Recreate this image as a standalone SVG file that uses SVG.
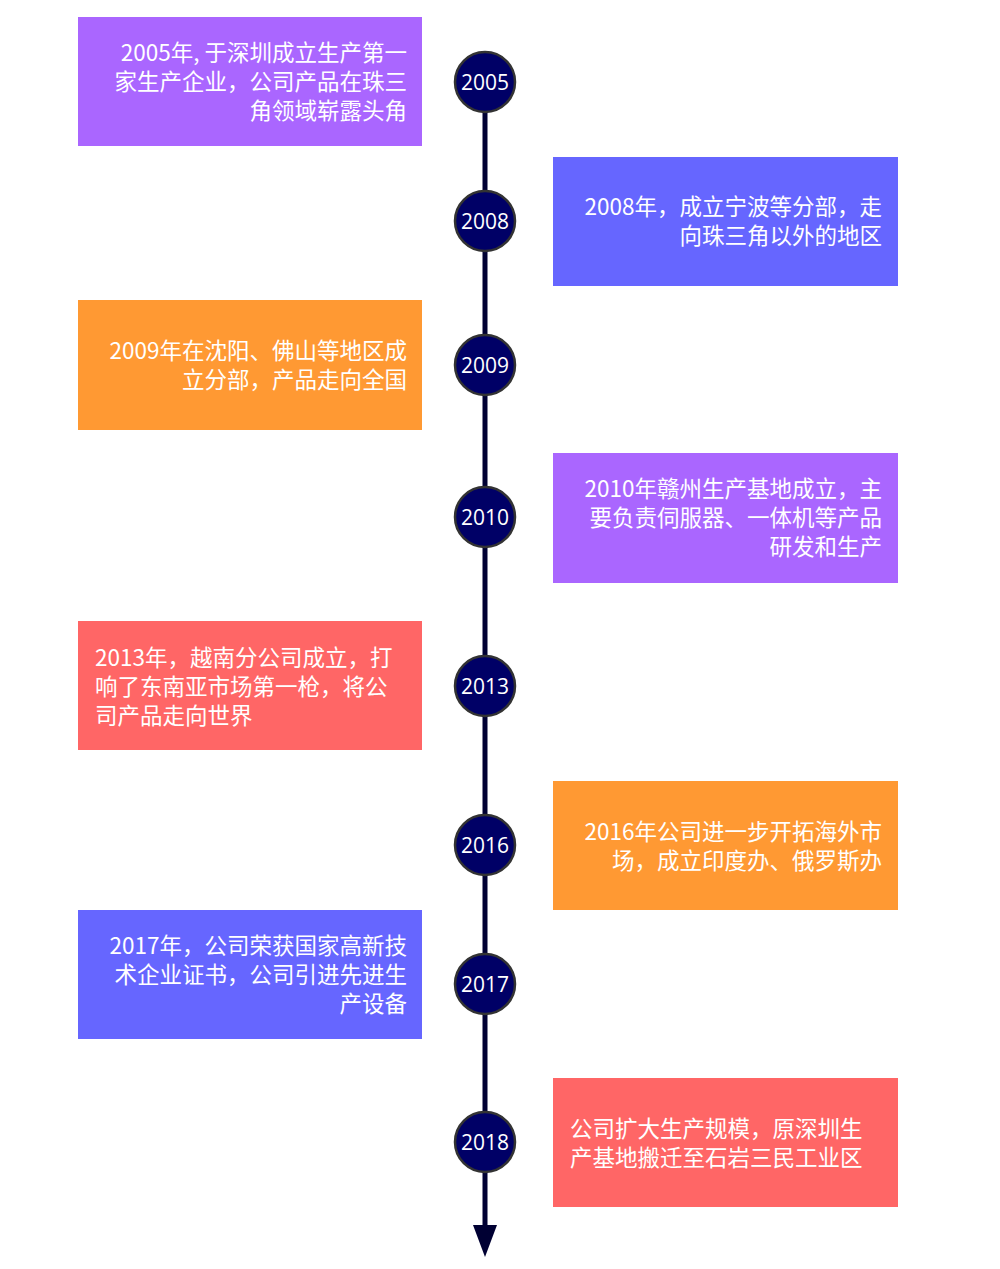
<svg xmlns="http://www.w3.org/2000/svg" width="1000" height="1269" viewBox="0 0 1000 1269">
<style>
.box{stroke:none}
.purple{fill:#AA66FF}
.blue{fill:#6666FF}
.orange{fill:#FF9933}
.red{fill:#FF6666}
.t{font-family:"Noto Sans CJK SC","Noto Sans",sans-serif;font-size:22.5px;fill:#ffffff}
.r{text-anchor:end}
.yr{fill:#000066;stroke:#333333;stroke-width:2.5}
.yt{font-family:"Open Sans","DejaVu Sans",sans-serif;font-size:21px;fill:#ffffff;text-anchor:middle}
</style>
<rect width="1000" height="1269" fill="#ffffff"/>
<g id="connectors">
<line x1="485" y1="82" x2="485" y2="1228" stroke="#000033" stroke-width="5"/>
<polygon points="473,1225 497,1225 485,1257" fill="#000033"/>
</g>
<g id="node-2005">
<rect class="box purple" x="78" y="17" width="344" height="129"/>
<text class="t r" x="407" y="61">2005年, 于深圳成立生产第一</text>
<text class="t r" x="407" y="90">家生产企业，公司产品在珠三</text>
<text class="t r" x="407" y="119">角领域崭露头角</text>
<circle class="yr" cx="485" cy="82" r="30"/>
<text class="yt" x="485" y="89.5">2005</text>
</g>
<g id="node-2008">
<rect class="box blue" x="553" y="157" width="345" height="129"/>
<text class="t r" x="882" y="215">2008年，成立宁波等分部，走</text>
<text class="t r" x="882" y="244">向珠三角以外的地区</text>
<circle class="yr" cx="485" cy="221" r="30"/>
<text class="yt" x="485" y="228.5">2008</text>
</g>
<g id="node-2009">
<rect class="box orange" x="78" y="300" width="344" height="130"/>
<text class="t r" x="407" y="359">2009年在沈阳、佛山等地区成</text>
<text class="t r" x="407" y="388">立分部，产品走向全国</text>
<circle class="yr" cx="485" cy="365" r="30"/>
<text class="yt" x="485" y="372.5">2009</text>
</g>
<g id="node-2010">
<rect class="box purple" x="553" y="453" width="345" height="130"/>
<text class="t r" x="882" y="497">2010年赣州生产基地成立，主</text>
<text class="t r" x="882" y="526">要负责伺服器、一体机等产品</text>
<text class="t r" x="882" y="555">研发和生产</text>
<circle class="yr" cx="485" cy="517" r="30"/>
<text class="yt" x="485" y="524.5">2010</text>
</g>
<g id="node-2013">
<rect class="box red" x="78" y="621" width="344" height="129"/>
<text class="t" x="95" y="666">2013年，越南分公司成立，打</text>
<text class="t" x="95" y="695">响了东南亚市场第一枪，将公</text>
<text class="t" x="95" y="724">司产品走向世界</text>
<circle class="yr" cx="485" cy="686" r="30"/>
<text class="yt" x="485" y="693.5">2013</text>
</g>
<g id="node-2016">
<rect class="box orange" x="553" y="781" width="345" height="129"/>
<text class="t r" x="882" y="840">2016年公司进一步开拓海外市</text>
<text class="t r" x="882" y="869">场，成立印度办、俄罗斯办</text>
<circle class="yr" cx="485" cy="845" r="30"/>
<text class="yt" x="485" y="852.5">2016</text>
</g>
<g id="node-2017">
<rect class="box blue" x="78" y="910" width="344" height="129"/>
<text class="t r" x="407" y="954">2017年，公司荣获国家高新技</text>
<text class="t r" x="407" y="983">术企业证书，公司引进先进生</text>
<text class="t r" x="407" y="1012">产设备</text>
<circle class="yr" cx="485" cy="984" r="30"/>
<text class="yt" x="485" y="991.5">2017</text>
</g>
<g id="node-2018">
<rect class="box red" x="553" y="1078" width="345" height="129"/>
<text class="t" x="570" y="1137">公司扩大生产规模，原深圳生</text>
<text class="t" x="570" y="1166">产基地搬迁至石岩三民工业区</text>
<circle class="yr" cx="485" cy="1142" r="30"/>
<text class="yt" x="485" y="1149.5">2018</text>
</g>
</svg>
